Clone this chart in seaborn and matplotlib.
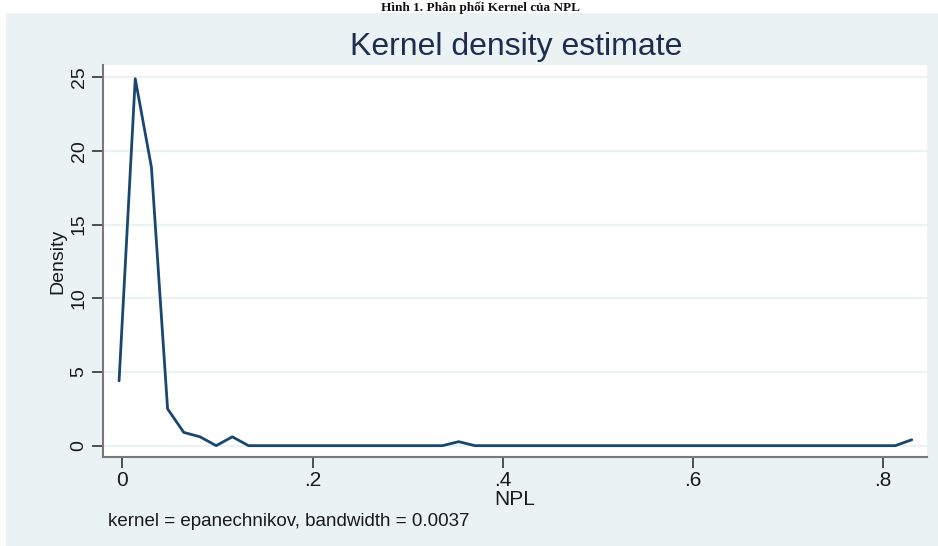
import matplotlib
matplotlib.use("Agg")
import matplotlib.pyplot as plt
import seaborn as sns
import pandas as pd
from matplotlib.patches import Rectangle

# ---- data ----
npl_grid = [-0.0035, 0.0135, 0.0305, 0.0475, 0.0645, 0.0816, 0.0986, 0.1156, 0.1326, 0.1496,
            0.1666, 0.1836, 0.2006, 0.2176, 0.2346, 0.2516, 0.2686, 0.2856, 0.3026, 0.3196,
            0.3366, 0.3536, 0.3706, 0.3876, 0.4046, 0.4216, 0.4386, 0.4556, 0.4726, 0.4896,
            0.5066, 0.5236, 0.5406, 0.5576, 0.5746, 0.5916, 0.6086, 0.6256, 0.6426, 0.6596,
            0.6766, 0.6936, 0.7106, 0.7276, 0.7446, 0.7616, 0.7786, 0.7956, 0.8126, 0.8300]
density = [4.4, 24.9, 18.9, 2.5, 0.9, 0.6, 0.0, 0.6, 0.0, 0.0,
           0.0, 0.0, 0.0, 0.0, 0.0, 0.0, 0.0, 0.0, 0.0, 0.0,
           0.0, 0.27, 0.0, 0.0, 0.0, 0.0, 0.0, 0.0, 0.0, 0.0,
           0.0, 0.0, 0.0, 0.0, 0.0, 0.0, 0.0, 0.0, 0.0, 0.0,
           0.0, 0.0, 0.0, 0.0, 0.0, 0.0, 0.0, 0.0, 0.0, 0.40]
x_ticks = [0, 0.2, 0.4, 0.6, 0.8]
x_tick_labels = ["0", ".2", ".4", ".6", ".8"]
y_ticks = [0, 5, 10, 15, 20, 25]
y_tick_labels = ["0", "5", "10", "15", "20", "25"]
title = "Kernel density estimate"
x_label = "NPL"
y_label = "Density"
note = "kernel = epanechnikov, bandwidth = 0.0037"
caption = "Hình 1. Phân phối Kernel của NPL"

df = pd.DataFrame({"NPL": npl_grid, "Density": density})

sns.set_theme(style="white")
plt.rcParams["font.family"] = ["Liberation Sans", "DejaVu Sans"]

W, H = 938, 546
fig = plt.figure(figsize=(W / 100, H / 100), dpi=100)
fig.patch.set_facecolor("white")

BG = "#eaf2f3"
LINE = "#1a476f"
TXT = "#1e2c4f"
DARK = "#1a1a1a"

# light-blue graph region
fig.patches.append(Rectangle((6 / W, 0), 1 - 6 / W, 1 - 13 / H,
                             transform=fig.transFigure, facecolor=BG,
                             edgecolor="none", zorder=-10))

ax = fig.add_axes([103 / W, 1 - 457 / H, (927 - 103) / W, (457 - 65) / H])
ax.set_facecolor("white")

for yt in y_ticks:
    ax.axhline(yt, color=BG, lw=1.6, zorder=1)

sns.lineplot(data=df, x="NPL", y="Density", ax=ax, color=LINE, lw=2.0, zorder=3)

ax.set_xlim(-0.0204, 0.846)
ax.set_ylim(-0.77, 25.83)

ax.set_xticks(x_ticks)
ax.set_xticklabels(x_tick_labels, fontsize=15, color=DARK)
ax.set_yticks(y_ticks)
ax.set_yticklabels(y_tick_labels, fontsize=14, color=DARK, rotation=90, va="center")
ax.tick_params(axis="x", length=8, width=1.2, color="#333333", pad=2, bottom=True)
ax.tick_params(axis="y", length=8, width=1.2, color="#333333", pad=3, left=True)

for side in ["top", "right"]:
    ax.spines[side].set_visible(False)
for side in ["left", "bottom"]:
    ax.spines[side].set_color("#777777")
    ax.spines[side].set_linewidth(1.5)

ax.set_xlabel(x_label, fontsize=15, color=DARK, labelpad=0)
ax.set_ylabel(y_label, fontsize=14, color=DARK, labelpad=3)

fig.text(516 / W, 1 - 47 / H, title, ha="center", va="center",
         fontsize=23, color=TXT)
fig.text(108 / W, 1 - 522 / H, note, ha="left", va="center",
         fontsize=13.5, color=DARK)
fig.text(480 / W, 1 - 11 / H, caption, ha="center", va="baseline",
         fontsize=9.5, fontweight="bold", family=["Liberation Serif", "DejaVu Serif"],
         color="#111111")

fig.savefig("out.png", dpi=100)
